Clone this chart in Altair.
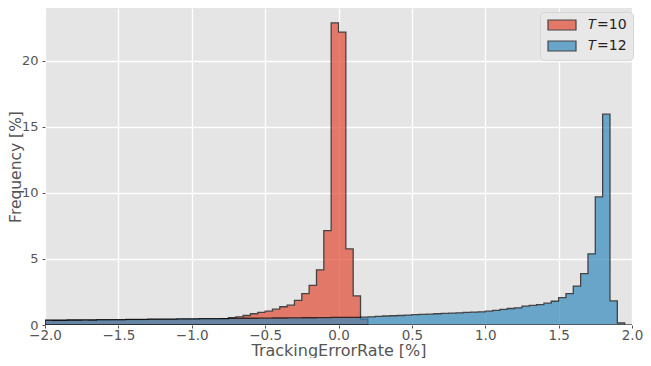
import altair as alt
import numpy as np
import pandas as pd

# histogram bins: width 0.05 from -2.0 to 2.0
bin_width = 0.05
x_min, x_max = -2.0, 2.0

t10_values = [
    0.35, 0.34, 0.35, 0.36, 0.36, 0.37, 0.37, 0.38, 0.38, 0.39,
    0.39, 0.40, 0.41, 0.41, 0.42, 0.42, 0.43, 0.43, 0.44, 0.45,
    0.45, 0.46, 0.47, 0.47, 0.48, 0.55, 0.62, 0.72, 0.85, 0.95,
    1.05, 1.20, 1.38, 1.50, 1.86, 2.38, 3.00, 4.18, 7.14, 22.88,
    22.18, 5.76, 2.20, 0.45,
]

t12_values = [
    0.37, 0.36, 0.36, 0.38, 0.38, 0.39, 0.38, 0.40, 0.40, 0.41,
    0.41, 0.42, 0.43, 0.43, 0.44, 0.44, 0.45, 0.45, 0.46, 0.47,
    0.47, 0.48, 0.48, 0.49, 0.49, 0.50, 0.50, 0.51, 0.51, 0.52,
    0.52, 0.53, 0.53, 0.54, 0.54, 0.55, 0.55, 0.56, 0.56, 0.57,
    0.57, 0.58, 0.58, 0.59, 0.62, 0.65, 0.68, 0.70, 0.72, 0.75,
    0.78, 0.80, 0.83, 0.85, 0.88, 0.90, 0.92, 0.95, 0.98, 1.00,
    1.05, 1.10, 1.18, 1.25, 1.30, 1.43, 1.48, 1.55, 1.65, 1.80,
    2.08, 2.38, 2.95, 3.89, 5.39, 9.70, 15.96, 1.82, 0.15, 0.0,
]

series_names = ["𝑇=10", "𝑇=12"]
series_colors = ["#E24A33", "#348ABD"]
x_ticks = [-2.0, -1.5, -1.0, -0.5, 0.0, 0.5, 1.0, 1.5, 2.0]
y_ticks = [0, 5, 10, 15, 20]


def step_frame(values, name):
    n = len(values)
    edges = np.round(x_min + bin_width * np.arange(n + 1), 4)
    return pd.DataFrame({
        "x": edges,
        "y": list(values) + [0.0],
        "series": name,
    })


df10 = step_frame(t10_values, series_names[0])
df12 = step_frame(t12_values, series_names[1])

font = "DejaVu Sans"

color = alt.Color(
    "series:N",
    scale=alt.Scale(domain=series_names, range=series_colors),
    legend=alt.Legend(
        title=None,
        orient="none",
        legendX=495,
        legendY=4,
        symbolType="M-2.8,-1H2.8V1H-2.8Z",
        symbolSize=100,
        symbolOffset=9,
        symbolStrokeColor="black",
        symbolStrokeWidth=1.2,
        symbolOpacity=0.7,
        labelFontSize=14,
        labelFont=font,
        labelColor="#222222",
        labelOffset=19,
        rowPadding=5,
        padding=6,
        fillColor="#E8E8E8",
        strokeColor="#D6D6D6",
        cornerRadius=4,
    ),
)

x_enc = alt.X(
    "x:Q",
    scale=alt.Scale(domain=[x_min, x_max], nice=False, zero=False),
    axis=alt.Axis(
        values=x_ticks,
        format=".1f",
        title="TrackingErrorRate [%]",
        labelFlush=False,
        labelPadding=0,
        titleY=30,
        titleBaseline="alphabetic",
    ),
)
y_enc = alt.Y(
    "y:Q",
    scale=alt.Scale(domain=[0, 24], nice=False),
    axis=alt.Axis(
        values=y_ticks,
        title="Frequency [%]",
        titleX=-30,
        titleFontSize=15.5,
        titleBaseline="middle",
        labelPadding=4,
        labelFontSize=13,
    ),
)


def area_layer(df):
    return alt.Chart(df).mark_area(
        interpolate="step-after",
        opacity=0.7,
        stroke="black",
        strokeWidth=1.3,
        clip=True,
    ).encode(x=x_enc, y=y_enc, color=color)


chart = alt.layer(area_layer(df10), area_layer(df12)).properties(
    width=587,
    height=317,
    autosize=alt.AutoSizeParams(type="none"),
    padding={"left": 37, "top": 0, "right": 11, "bottom": 33},
    background="white",
).configure_view(
    fill="#E5E5E5",
    stroke=None,
).configure_axis(
    grid=True,
    gridColor="white",
    gridWidth=1.3,
    domain=False,
    tickColor="#555555",
    tickSize=3,
    tickWidth=1,
    labelColor="#555555",
    labelFont=font,
    labelFontSize=13.5,
    titleColor="#555555",
    titleFont=font,
    titleFontSize=16,
    titleFontWeight="normal",
)

chart.save("out.html", embed_options={"renderer": "svg", "actions": False})
